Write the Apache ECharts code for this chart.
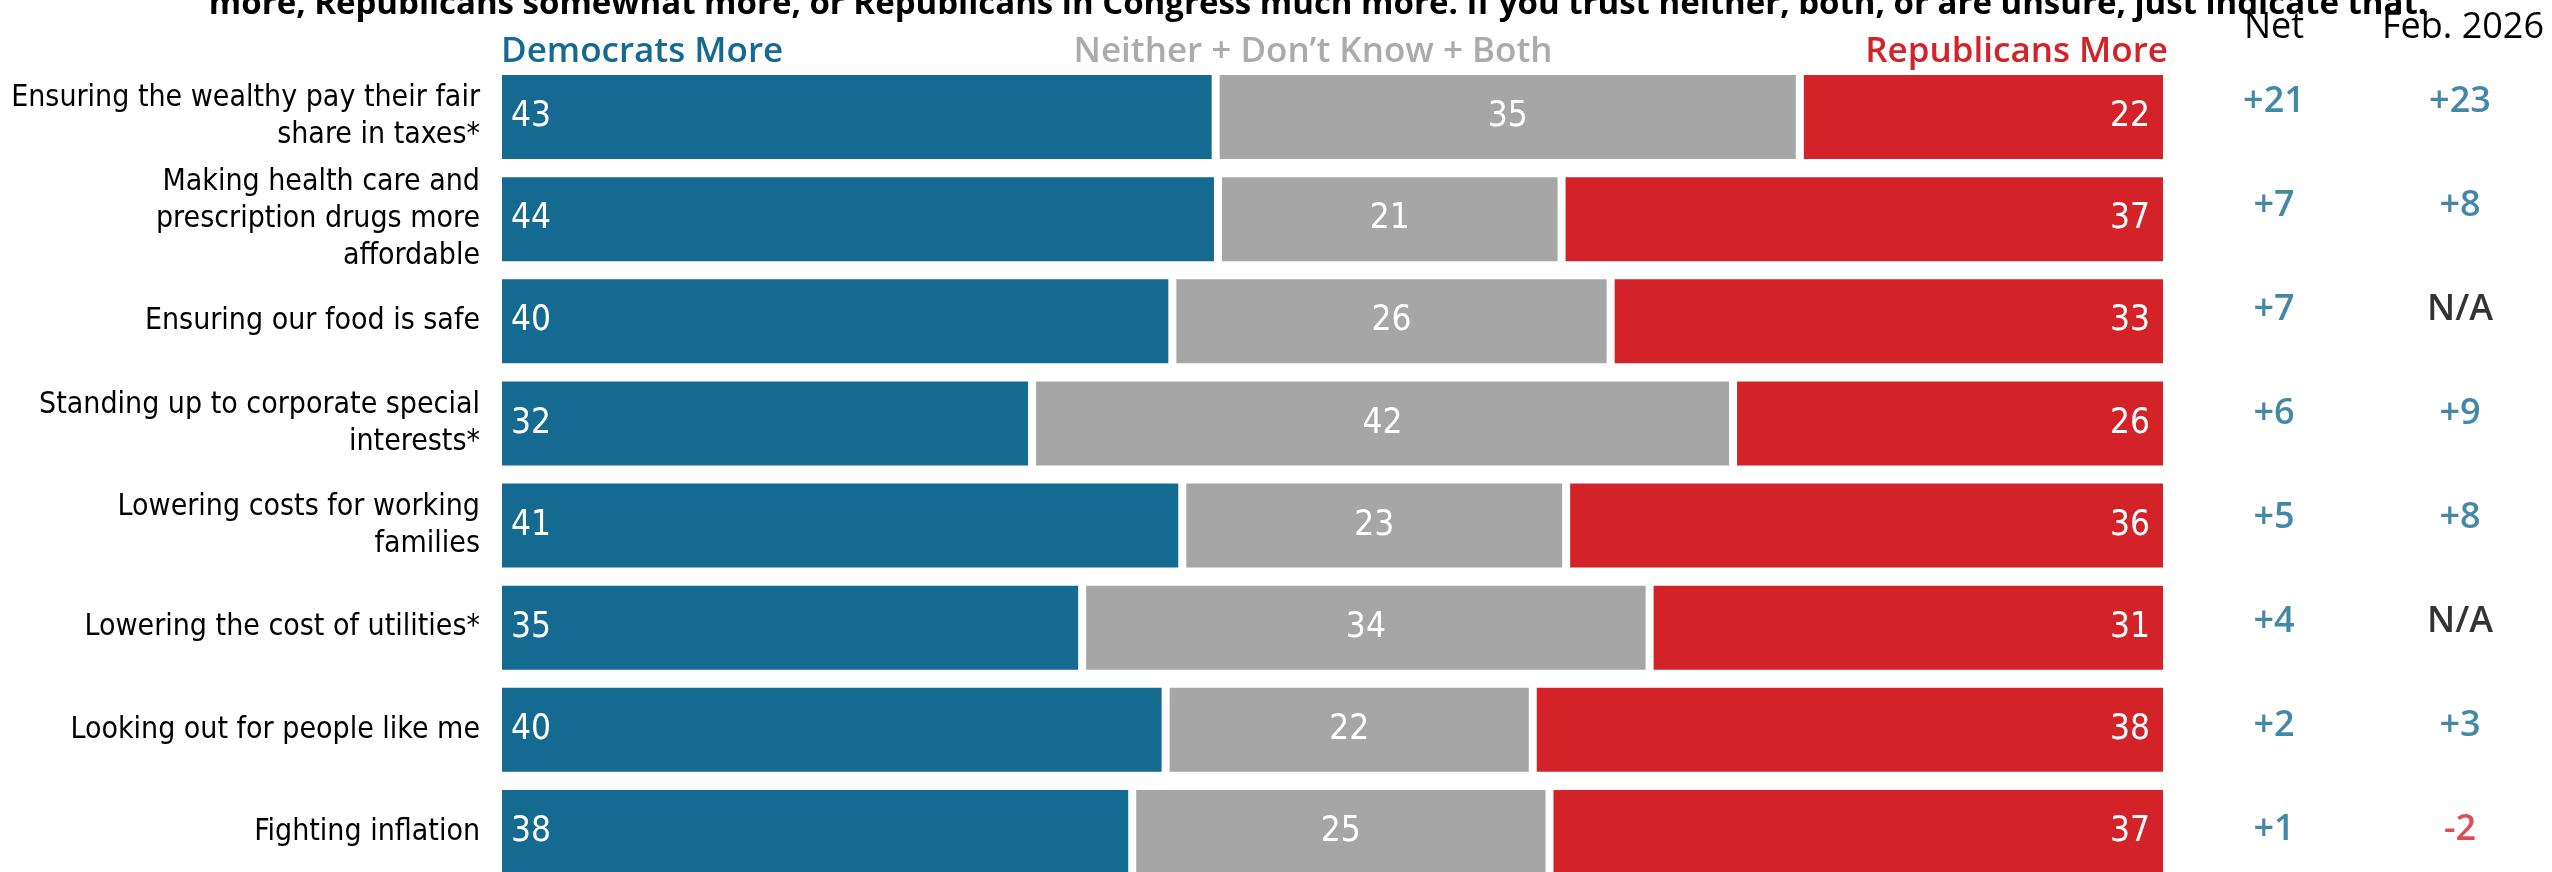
<!DOCTYPE html>
<html><head><meta charset="utf-8">
<script src="https://cdn.jsdelivr.net/npm/echarts@6/dist/echarts.min.js"></script>
<style>html,body{margin:0;padding:0;background:#fff}#c{width:2552px;height:872px}</style>
</head><body><div id="c"></div>
<script>
const categories = [
  'Ensuring the wealthy pay their fair\nshare in taxes*',
  'Making health care and\nprescription drugs more\naffordable',
  'Ensuring our food is safe',
  'Standing up to corporate special\ninterests*',
  'Lowering costs for working\nfamilies',
  'Lowering the cost of utilities*',
  'Looking out for people like me',
  'Fighting inflation'
];
const democratsMore   = [43, 44, 40, 32, 41, 35, 40, 38];
const neitherBoth     = [35, 21, 26, 42, 23, 34, 22, 25];
const republicansMore = [22, 37, 33, 26, 36, 31, 38, 37];
const netValues     = ['+21', '+7', '+7', '+6', '+5', '+4', '+2', '+1'];
const feb2026Values = ['+23', '+8', 'N/A', '+9', '+8', 'N/A', '+3', '-2'];
const seriesNames = ['Democrats More', 'Neither + Don\u2019t Know + Both', 'Republicans More'];
const titleText = 'more, Republicans somewhat more, or Republicans in Congress much more. If you trust neither, both, or are unsure, just indicate that.';

const BLUE = '#156a91', GREY = '#a6a6a6', RED = '#d32228', GREY_TXT = '#ababab';
const NARROW = '"Liberation Sans Narrow", "DejaVu Sans Condensed", "Noto Sans", sans-serif';
const WIDE = '"Open Sans", "Noto Sans", sans-serif';

const totals = categories.map((_, i) => democratsMore[i] + neitherBoth[i] + republicansMore[i]);
const share = (arr) => arr.map((v, i) => ({ value: v / totals[i] * 100, raw: v }));

const chart = echarts.init(document.getElementById('c'), null, { renderer: 'canvas' });

function barSeries(name, arr, color, pos, dist) {
  return {
    name, type: 'bar', stack: 'all', xAxisIndex: 0, yAxisIndex: 0,
    barWidth: 92,
    data: share(arr),
    itemStyle: { color, borderColor: '#fff', borderWidth: 4 },
    label: {
      show: true, position: pos, distance: dist,
      color: '#fff', fontFamily: NARROW, fontSize: 35,
      formatter: p => p.data.raw
    },
    emphasis: { disabled: true }
  };
}
const colFor = v => v.startsWith('+') ? BLUE : (v.startsWith('-') ? RED : '#000');
function colSeries(arr, x) {
  return {
    type: 'scatter', xAxisIndex: 1, yAxisIndex: 1,
    symbolSize: 1, itemStyle: { color: 'rgba(0,0,0,0)' },
    data: arr.map((v, i) => ({ value: [x, i], label: { color: colFor(v) } })),
    label: {
      show: true, position: 'inside', fontFamily: WIDE, fontWeight: 600, fontSize: 36,
      formatter: p => arr[p.dataIndex]
    },
    emphasis: { disabled: true }
  };
}

chart.setOption({
  animation: false,
  backgroundColor: '#fff',
  grid: [
    { left: 498, width: 1669, top: 66, height: 817, outerBoundsMode: 'none', containLabel: false },
    { left: 2274, width: 186, top: 50, height: 832, outerBoundsMode: 'none', containLabel: false }
  ],
  xAxis: [
    { type: 'value', gridIndex: 0, min: 0, max: 100, show: false },
    { type: 'value', gridIndex: 1, min: 0, max: 1, show: false }
  ],
  yAxis: [
    { type: 'category', gridIndex: 0, data: categories, inverse: true,
      axisLine: { show: false }, axisTick: { show: false }, splitLine: { show: false },
      axisLabel: { color: '#000', fontFamily: NARROW, fontSize: 30, lineHeight: 37, margin: 18, align: 'right' } },
    { type: 'category', gridIndex: 1, data: categories, inverse: true, show: false }
  ],
  series: [
    barSeries(seriesNames[0], democratsMore, BLUE, 'insideLeft', 13),
    barSeries(seriesNames[1], neitherBoth, GREY, 'inside', 0),
    barSeries(seriesNames[2], republicansMore, RED, 'insideRight', 17),
    colSeries(netValues, 0),
    colSeries(feb2026Values, 1)
  ],
  graphic: [
    { type: 'text', x: 1318, y: 5, silent: true, style: { text: titleText, fill: '#000', font: '700 33px ' + WIDE, textAlign: 'center', textVerticalAlign: 'middle' } },
    { type: 'text', x: 501, y: 52, style: { text: seriesNames[0], fill: BLUE, font: '600 35px ' + WIDE, textAlign: 'left', textVerticalAlign: 'middle' } },
    { type: 'text', x: 1313, y: 52, style: { text: seriesNames[1], fill: GREY_TXT, font: '600 35px ' + WIDE, textAlign: 'center', textVerticalAlign: 'middle' } },
    { type: 'text', x: 2168, y: 52, style: { text: seriesNames[2], fill: RED, font: '600 35px ' + WIDE, textAlign: 'right', textVerticalAlign: 'middle' } },
    { type: 'text', x: 2274, y: 28, style: { text: 'Net', fill: '#000', font: '400 36px ' + WIDE, textAlign: 'center', textVerticalAlign: 'middle' } },
    { type: 'text', x: 2463, y: 28, style: { text: 'Feb. 2026', fill: '#000', font: '400 36px ' + WIDE, textAlign: 'center', textVerticalAlign: 'middle' } }
  ]
});
</script></body></html>
